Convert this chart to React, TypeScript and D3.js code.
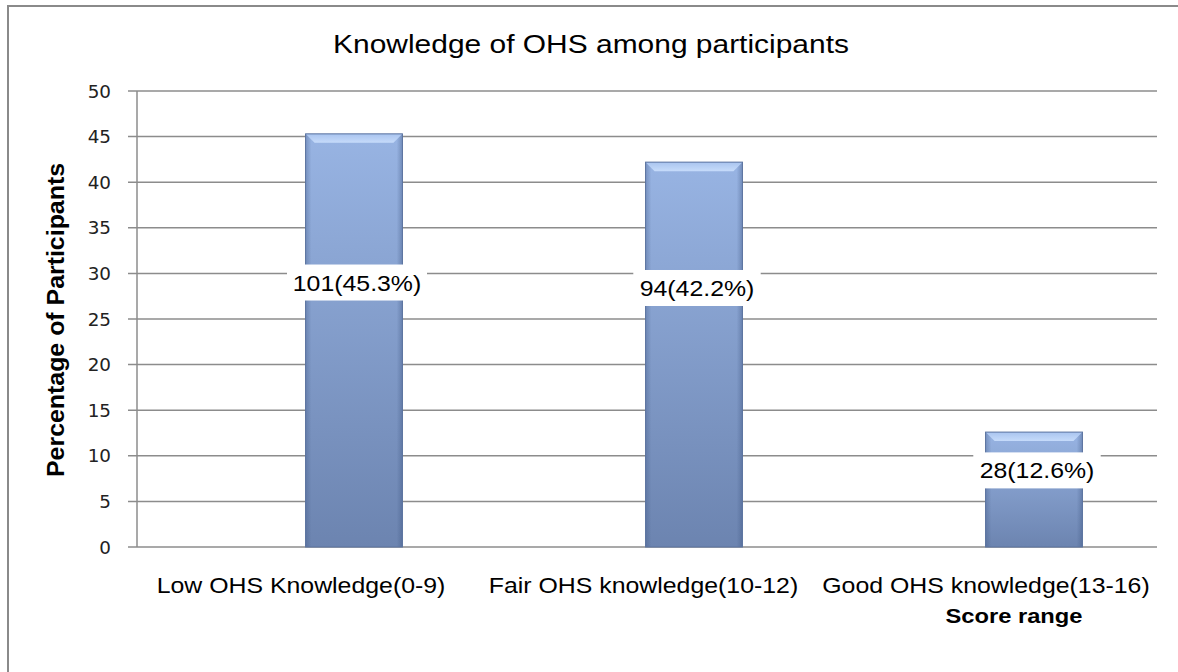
import React from "react";
import * as d3 from "d3";

// values
const categories = [
  "Low OHS Knowledge(0-9)",
  "Fair OHS knowledge(10-12)",
  "Good OHS knowledge(13-16)",
];
const percentages = [45.3, 42.2, 12.6];
const dataLabels = ["101(45.3%)", "94(42.2%)", "28(12.6%)"];
// where each data label sits, in axis units
const labelAt = [29.0, 28.4, 8.4];
const yTicks = [0, 5, 10, 15, 20, 25, 30, 35, 40, 45, 50];

const chartTitle = "Knowledge of OHS among participants";
const yTitle = "Percentage of Participants";
const xTitle = "Score range";

const W = 1178;
const H = 672;
const SX = 1.13; // the source picture is a bit stretched sideways
const ARIAL = "'Liberation Sans', Arial, sans-serif";
const TAHOMA = "'DejaVu Sans', Tahoma, sans-serif";

function Stretched({ x, y, anchor = "middle", size, weight = "normal", family = ARIAL, fill = "#000", sx = SX, children }: any) {
  return (
    <text
      transform={`translate(${x},${y}) scale(${sx},1)`}
      textAnchor={anchor}
      fontSize={size}
      fontWeight={weight}
      fontFamily={family}
      fill={fill}
    >
      {children}
    </text>
  );
}

export default function App() {
  const plot = { left: 137, right: 1157, top: 91, bottom: 547 };

  const y = d3.scaleLinear().domain([0, 50]).range([plot.bottom, plot.top]);

  // bars sit a little right of their category labels in the source
  const xBar = d3
    .scaleBand()
    .domain(categories)
    .range([184, 1204])
    .paddingInner(0.715)
    .paddingOuter(0.3575);
  const xLabel = d3.scalePoint().domain(categories).range([301, 986]);

  const bw = xBar.bandwidth();
  const bevel = 9;

  return (
    <svg
      width={W}
      height={H}
      style={{ position: "absolute", left: 0, top: 0, background: "#fff" }}
    >
      <defs>
        <linearGradient id="barFill" x1="0" y1="0" x2="0" y2="1">
          <stop offset="0%" stopColor="#98b4e3" />
          <stop offset="100%" stopColor="#6c84b0" />
        </linearGradient>
        <linearGradient id="barSides" x1="0" y1="0" x2="1" y2="0">
          <stop offset="0%" stopColor="#3d5580" stopOpacity={0.35} />
          <stop offset="6%" stopColor="#3d5580" stopOpacity={0} />
          <stop offset="94%" stopColor="#3d5580" stopOpacity={0} />
          <stop offset="100%" stopColor="#3d5580" stopOpacity={0.4} />
        </linearGradient>
        <linearGradient id="bevelTop" x1="0" y1="0" x2="0" y2="1">
          <stop offset="0%" stopColor="#a9c4ef" />
          <stop offset="100%" stopColor="#c6dbfa" />
        </linearGradient>
      </defs>

      {/* outer chart border, runs off the right and bottom */}
      <rect x={8} y={6} width={W + 20} height={H + 20} fill="#fff" stroke="#8a8a8a" strokeWidth={2} />

      <Stretched x={591} y={53} size={26.5}>
        {chartTitle}
      </Stretched>

      {/* gridlines + y ticks */}
      {yTicks.map(t => (
        <g key={t}>
          <line x1={plot.left - 9} x2={plot.right} y1={y(t)} y2={y(t)} stroke="#8c8c8c" strokeWidth={1.5} />
          <Stretched x={111} y={y(t) + 6.5} anchor="end" size={18} family={TAHOMA} fill="#222" sx={1.02}>
            {t}
          </Stretched>
        </g>
      ))}
      <line x1={plot.left} x2={plot.left} y1={plot.top} y2={plot.bottom} stroke="#8c8c8c" strokeWidth={1.5} />

      {/* bars */}
      {categories.map((c, i) => {
        const x0 = xBar(c)!;
        const y0 = y(percentages[i]);
        const h = plot.bottom - y0;
        return (
          <g key={c}>
            <rect x={x0} y={y0} width={bw} height={h} fill="url(#barFill)" />
            <rect x={x0} y={y0} width={bw} height={h} fill="url(#barSides)" />
            <path
              d={`M${x0},${y0}H${x0 + bw}L${x0 + bw - bevel},${y0 + bevel}H${x0 + bevel}Z`}
              fill="url(#bevelTop)"
            />
            <rect x={x0} y={y0} width={bw} height={h} fill="none" stroke="#5b739f" strokeWidth={1} />
          </g>
        );
      })}

      {/* data labels on white boxes */}
      {categories.map((c, i) => {
        const cx = xBar(c)! + bw / 2 + 3;
        const cy = y(labelAt[i]);
        const boxW = dataLabels[i].length * 12.6 + 14;
        return (
          <g key={c + "-lbl"}>
            <rect x={cx - boxW / 2} y={cy - 18} width={boxW} height={36} fill="#fff" />
            <Stretched x={cx} y={cy + 8} size={22}>
              {dataLabels[i]}
            </Stretched>
          </g>
        );
      })}

      {/* category labels */}
      {categories.map(c => (
        <Stretched key={c + "-cat"} x={xLabel(c)!} y={593} size={22}>
          {c}
        </Stretched>
      ))}

      <Stretched x={1014} y={623} size={21} weight="bold">
        {xTitle}
      </Stretched>

      <text
        transform={`translate(64,320) rotate(-90)`}
        textAnchor="middle"
        fontSize={23}
        fontWeight="bold"
        fontFamily={ARIAL}
        textLength={314}
        lengthAdjust="spacingAndGlyphs"
      >
        {yTitle}
      </text>
    </svg>
  );
}
